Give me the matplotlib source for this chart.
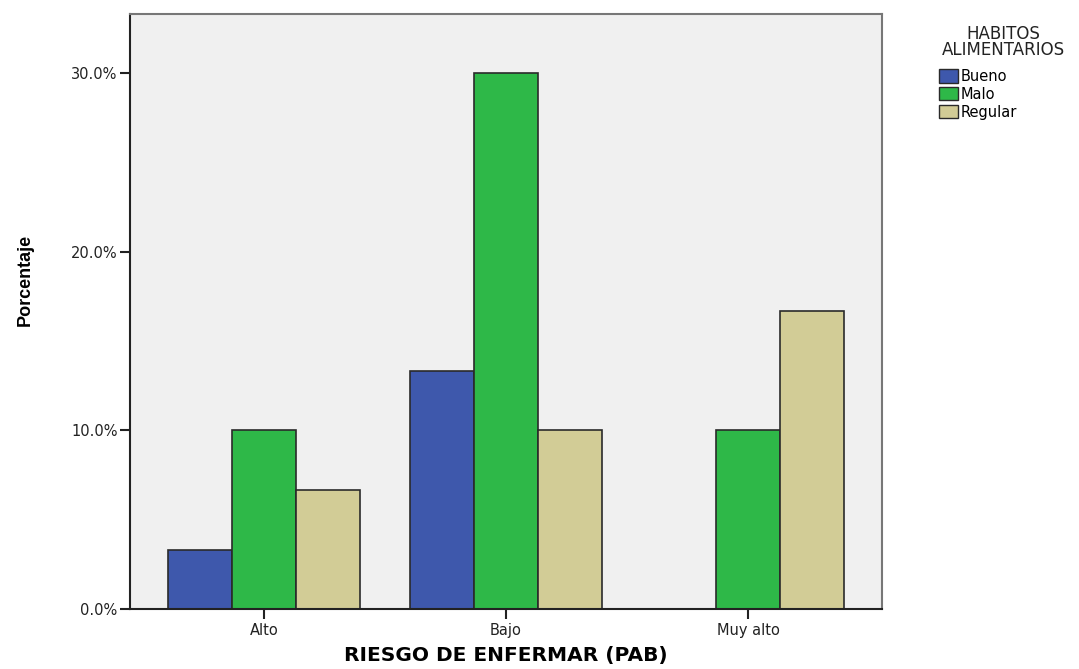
import numpy as np
import matplotlib
matplotlib.use("Agg")
import matplotlib.pyplot as plt
from matplotlib.patches import Patch
from matplotlib.ticker import FuncFormatter

categorias = ["Alto", "Bajo", "Muy alto"]
grupos = ["Bueno", "Malo", "Regular"]
bueno = [3.33, 13.33, 0.0]
malo = [10.0, 30.0, 10.0]
regular = [6.67, 10.0, 16.67]
colores = ["#3e58ac", "#2eb848", "#d2cc96"]

plt.rcParams['font.family'] = ['DejaVu Sans']

fig = plt.figure(figsize=(10.79, 6.69), dpi=100)
ax = fig.add_axes([130 / 1079, 1 - 609 / 669, 752 / 1079, 595 / 669])
ax.set_facecolor("#f0f0f0")

x = np.arange(len(categorias))
w = 0.2645
for i, (vals, c) in enumerate(zip([bueno, malo, regular], colores)):
    ax.bar(x + (i - 1) * w, vals, width=w, color=c, edgecolor="#2a2a2a",
           linewidth=1.2, zorder=2)

ax.set_xlim(-0.554, 2.554)
ax.set_ylim(0, 33.33)
ax.set_yticks([0, 10, 20, 30])
ax.yaxis.set_major_formatter(FuncFormatter(lambda v, p: f"{v:.1f}%"))
ax.set_xticks(x)
ax.set_xticklabels(categorias)
ax.tick_params(axis="both", labelsize=10.5, color="#222222", length=7, width=1.5,
               labelcolor="#222222")
ax.tick_params(axis="x", pad=3)
ax.tick_params(axis="y", pad=2)

for side in ["left", "bottom"]:
    ax.spines[side].set_linewidth(1.5)
    ax.spines[side].set_color("#222222")
for side in ["top", "right"]:
    ax.spines[side].set_linewidth(1.5)
    ax.spines[side].set_color("#777777")

ax.set_xlabel("RIESGO DE ENFERMAR (PAB)", fontsize=14.5, fontweight="bold",
              va="center")
ax.xaxis.set_label_coords(0.5, (609 - 656) / 595)
ax.set_ylabel("Porcentaje", fontsize=13, fontweight="bold", va="center",
              family=['Liberation Sans Narrow', 'Liberation Sans'])
ax.yaxis.set_label_coords((25 - 130) / 752, (609 - 280) / 595)

fig.text(1003 / 1079, 1 - 42 / 669, "HABITOS\nALIMENTARIOS", ha="center",
         va="center", fontsize=12, linespacing=0.9, color="#222222")
handles = [Patch(facecolor=c, edgecolor="#2a2a2a", label=g)
           for g, c in zip(grupos, colores)]
fig.legend(handles=handles, loc="upper left",
           bbox_to_anchor=(939 / 1079, 1 - 69 / 669), frameon=False,
           fontsize=10.5, handlelength=1.3, handleheight=1.0,
           handletextpad=0.2, labelspacing=0.2, borderaxespad=0,
           borderpad=0)

fig.savefig("out.png", dpi=100)
